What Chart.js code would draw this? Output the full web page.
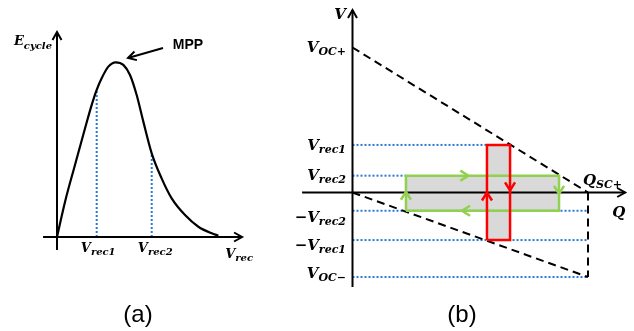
<!DOCTYPE html>
<html lang="en">
<head>
<meta charset="UTF-8">
<title>E_cycle vs V_rec / V-Q cycle</title>
<script src="https://cdn.jsdelivr.net/npm/chart.js"></script>
<style>
  body { margin: 0; background: #fff; }
  #wrap { position: relative; width: 634px; height: 331px; }
  #wrap canvas { position: absolute; top: 0; }
</style>
</head>
<body>
<div id="wrap">
  <canvas id="chartA" width="280" height="331" style="left:0;width:280px;height:331px"></canvas>
  <canvas id="chartB" width="354" height="331" style="left:280px;width:354px;height:331px"></canvas>
</div>
<script>
// ---- (a) harvested energy per cycle vs rectified voltage ----
const curveV = [0, 0.52, 1.16, 1.81, 2.24, 2.56, 2.88, 3.31, 3.79, 4.28, 4.71, 5.14, 5.57, 6.11, 6.75, 7.4, 8.26, 9.12, 9.98, 10.41];
const curveE = [0, 2.03, 4.14, 6.25, 7.59, 8.45, 9.12, 9.79, 10.04, 9.89, 9.31, 8.16, 6.63, 4.81, 3.37, 2.22, 1.26, 0.59, 0.21, 0.08];
const recV = [2.56, 6.11];   // V_rec1, V_rec2
const recE = [8.45, 4.81];   // curve height at those voltages

// ---- (b) V-Q cycles ----
const vocPlus = 10;
const vocMinus = -5.83;
const qscPlus = 10;
const guideV = [3.28, 1.16, -1.26, -3.28, -5.83];   // V_rec1, V_rec2, -V_rec2, -V_rec1, V_OC-
const guideEndQ = [5.71, 2.27, 10, 10, 10];         // where each dotted guide stops
const greenQ = [2.27, 8.77];
const greenV = [-1.26, 1.16];
const redQ = [5.71, 6.69];
const redV = [-3.28, 3.28];

const BLUE = '#2b78d4';
const GREEN = '#92d050';
const RED = '#ff0000';
const GRAY = '#d9d9d9';

function pts(xs, ys) { return xs.map((x, i) => ({ x: x, y: ys[i] })); }
function seg(x1, y1, x2, y2) { return [{ x: x1, y: y1 }, { x: x2, y: y2 }]; }
function box(qs, vs) {
  return pts([qs[0], qs[1], qs[1], qs[0], qs[0]], [vs[0], vs[0], vs[1], vs[1], vs[0]]);
}

// scale limits so that data origin lands on a given pixel
function frame(w, h, ox, oy, ux, uy) {
  return {
    responsive: false,
    animation: false,
    events: [],
    layout: { padding: 0, autoPadding: false },
    scales: {
      x: { type: 'linear', display: false, min: -ox / ux, max: (w - ox) / ux },
      y: { type: 'linear', display: false, min: (oy - h) / uy, max: oy / uy }
    },
    elements: { point: { radius: 0 }, line: { borderCapStyle: 'butt' } },
    plugins: { legend: { display: false }, tooltip: { enabled: false } }
  };
}

function chevron(ctx, tx, ty, ux, uy, len, half, color, width) {
  ctx.beginPath();
  ctx.moveTo(tx - ux * len - uy * half, ty - uy * len + ux * half);
  ctx.lineTo(tx, ty);
  ctx.lineTo(tx - ux * len + uy * half, ty - uy * len - ux * half);
  ctx.strokeStyle = color;
  ctx.lineWidth = width;
  ctx.lineJoin = 'miter';
  ctx.stroke();
}

function mathLabel(ctx, l, px, py) {
  const fam = '"DejaVu Serif", serif';
  const fMain = 'italic bold ' + l.size + 'px ' + fam;
  const fSub = 'italic bold ' + l.subSize + 'px ' + fam;
  const fPre = 'bold ' + l.size + 'px ' + fam;
  ctx.font = fPre; const wPre = l.pre ? ctx.measureText(l.pre).width : 0;
  ctx.font = fMain; const wMain = ctx.measureText(l.text).width;
  ctx.font = fSub; const wSub = l.sub ? ctx.measureText(l.sub).width : 0;
  const total = wPre + wMain + wSub;
  let x = l.align === 'right' ? px - total : (l.align === 'center' ? px - total / 2 : px);
  ctx.fillStyle = '#000';
  ctx.textAlign = 'left';
  ctx.textBaseline = 'alphabetic';
  if (l.pre) { ctx.font = fPre; ctx.fillText(l.pre, x, py); x += wPre; }
  ctx.font = fMain; ctx.fillText(l.text, x, py); x += wMain;
  if (l.sub) { ctx.font = fSub; ctx.fillText(l.sub, x, py + (l.drop || 3)); }
}

// arrow heads + text labels
const decor = {
  id: 'decor',
  afterDatasetsDraw(chart, args, opts) {
    const ctx = chart.ctx;
    const sx = chart.scales.x, sy = chart.scales.y;
    ctx.save();
    chart.data.datasets.forEach(ds => {
      if (!ds.head) return;
      const n = ds.data.length;
      const a = ds.data[n - 2], b = ds.data[n - 1];
      const ax = sx.getPixelForValue(a.x), ay = sy.getPixelForValue(a.y);
      const bx = sx.getPixelForValue(b.x), by = sy.getPixelForValue(b.y);
      const d = Math.hypot(bx - ax, by - ay);
      chevron(ctx, bx, by, (bx - ax) / d, (by - ay) / d, ds.head[0], ds.head[1], ds.borderColor, ds.borderWidth);
    });
    (opts.marks || []).forEach(m => {
      const dir = { up: [0, -1], down: [0, 1], left: [-1, 0], right: [1, 0] }[m.dir];
      chevron(ctx, sx.getPixelForValue(m.x), sy.getPixelForValue(m.y), dir[0], dir[1], 8, 5, m.color, 2.5);
    });
    (opts.labels || []).forEach(l => {
      const px = sx.getPixelForValue(l.x) + (l.dx || 0);
      const py = sy.getPixelForValue(l.y) + (l.dy || 0);
      if (l.plain) {
        ctx.font = l.plain;
        ctx.fillStyle = '#000';
        ctx.textAlign = l.align || 'left';
        ctx.textBaseline = 'alphabetic';
        ctx.fillText(l.text, px, py);
      } else {
        mathLabel(ctx, l, px, py);
      }
    });
    ctx.restore();
  }
};

// ---------- chart (a) ----------
const optA = frame(280, 331, 57, 237, 15.5, 17.4);
optA.plugins.decor = {
  labels: [
    { text: 'E', sub: 'cycle', size: 13, subSize: 10, x: 0, y: 11.03, dx: -5, dy: 0, align: 'right', drop: 4 },
    { text: 'V', sub: 'rec1', size: 13, subSize: 10, x: recV[0], y: 0, dx: 1.5, dy: 15, align: 'center', drop: 3 },
    { text: 'V', sub: 'rec2', size: 13, subSize: 10, x: recV[1], y: 0, dx: 3.5, dy: 15, align: 'center', drop: 3 },
    { text: 'V', sub: 'rec', size: 13, subSize: 10, x: 11.94, y: 0, dx: 11, dy: 21, align: 'right', drop: 3 },
    { plain: 'bold 14px "Liberation Sans", Arial, sans-serif', text: 'MPP', x: 3.79, y: 10, dx: 57, dy: -14 },
    { plain: '24px "Liberation Sans", Arial, sans-serif', text: '(a)', x: 0, y: 0, dx: 81, dy: 85, align: 'center' }
  ]
};

new Chart(document.getElementById('chartA'), {
  type: 'line',
  data: {
    datasets: [
      { data: seg(0, -0.75, 0, 11.78), borderColor: '#000', borderWidth: 2, head: [8, 4.5] },
      { data: seg(-0.9, 0, 11.94, 0), borderColor: '#000', borderWidth: 2, head: [8, 4.5] },
      { data: pts(curveV, curveE), borderColor: '#000', borderWidth: 2.2, cubicInterpolationMode: 'monotone', order: -1 },
      { data: seg(recV[0], 0, recV[0], recE[0]), borderColor: BLUE, borderWidth: 2, borderDash: [2, 2], order: 2 },
      { data: seg(recV[1], 0, recV[1], recE[1]), borderColor: BLUE, borderWidth: 2, borderDash: [2, 2], order: 2 },
      { data: seg(6.84, 10.86, 4.58, 10.29), borderColor: '#000', borderWidth: 2, head: [8, 4.5] }
    ]
  },
  options: optA,
  plugins: [decor]
});

// ---------- chart (b) ----------
const optB = frame(354, 331, 72.5, 192.5, 23.55, 14.5);
const bl = { size: 15, subSize: 11, x: 0, dx: -6.5, align: 'right', drop: 3 };
optB.plugins.decor = {
  marks: [
    { x: 4.92, y: greenV[1], dir: 'right', color: GREEN },
    { x: greenQ[1], y: -0.1, dir: 'down', color: GREEN },
    { x: 4.65, y: greenV[0], dir: 'left', color: GREEN },
    { x: greenQ[0], y: 0.05, dir: 'up', color: GREEN },
    { x: redQ[0], y: 0, dir: 'up', color: RED },
    { x: redQ[1], y: 0.15, dir: 'down', color: RED }
  ],
  labels: [
    Object.assign({}, bl, { text: 'V', y: 12.59, dy: 9 }),
    Object.assign({}, bl, { text: 'V', sub: 'OC+', y: vocPlus, dy: 4.5 }),
    Object.assign({}, bl, { text: 'V', sub: 'rec1', y: guideV[0], dy: 5 }),
    Object.assign({}, bl, { text: 'V', sub: 'rec2', y: guideV[1], dy: 4.5 }),
    Object.assign({}, bl, { pre: '\u2212', text: 'V', sub: 'rec2', y: guideV[2], dy: 11 }),
    Object.assign({}, bl, { pre: '\u2212', text: 'V', sub: 'rec1', y: guideV[3], dy: 10 }),
    Object.assign({}, bl, { text: 'V', sub: 'OC\u2212', y: vocMinus, dy: 1 }),
    { text: 'Q', size: 15, subSize: 11, x: 11.58, y: 0, dx: 0, dy: 24.5, align: 'right' },
    { text: 'Q', sub: 'SC+', size: 15, subSize: 11, x: qscPlus, y: 0, dx: -5, dy: -7.5, align: 'left', drop: 3 },
    { plain: '24px "Liberation Sans", Arial, sans-serif', text: '(b)', x: 0, y: 0, dx: 109.5, dy: 129, align: 'center' }
  ]
};

const guides = guideV.map((v, i) => ({
  data: seg(0, v, guideEndQ[i], v), borderColor: BLUE, borderWidth: 2, borderDash: [2, 2], order: 5
}));

new Chart(document.getElementById('chartB'), {
  type: 'line',
  data: {
    datasets: [
      { data: box(redQ, redV), borderColor: RED, borderWidth: 2.5, order: 1 },
      { data: box(greenQ, greenV), borderColor: GREEN, borderWidth: 2.5, order: 2 },
      { data: seg(0, -6.52, 0, 12.59), borderColor: '#000', borderWidth: 2, head: [8, 4.5], order: 3 },
      { data: seg(-2.14, 0, 11.58, 0), borderColor: '#000', borderWidth: 2, head: [8, 4.5], order: 3 },
      { data: seg(0, vocPlus, qscPlus, 0), borderColor: '#000', borderWidth: 2, borderDash: [8, 5], order: 4 },
      { data: seg(0, 0, qscPlus, vocMinus), borderColor: '#000', borderWidth: 2, borderDash: [8, 5], order: 4 },
      { data: seg(qscPlus, 0, qscPlus, vocMinus), borderColor: '#000', borderWidth: 2, borderDash: [8, 5], order: 4 },
      ...guides,
      { data: seg(greenQ[0], greenV[1], greenQ[1], greenV[1]), borderWidth: 0, backgroundColor: GRAY, fill: { value: greenV[0] }, order: 6 },
      { data: seg(redQ[0], redV[1], redQ[1], redV[1]), borderWidth: 0, backgroundColor: GRAY, fill: { value: redV[0] }, order: 6 }
    ]
  },
  options: optB,
  plugins: [decor]
});
</script>
</body>
</html>
